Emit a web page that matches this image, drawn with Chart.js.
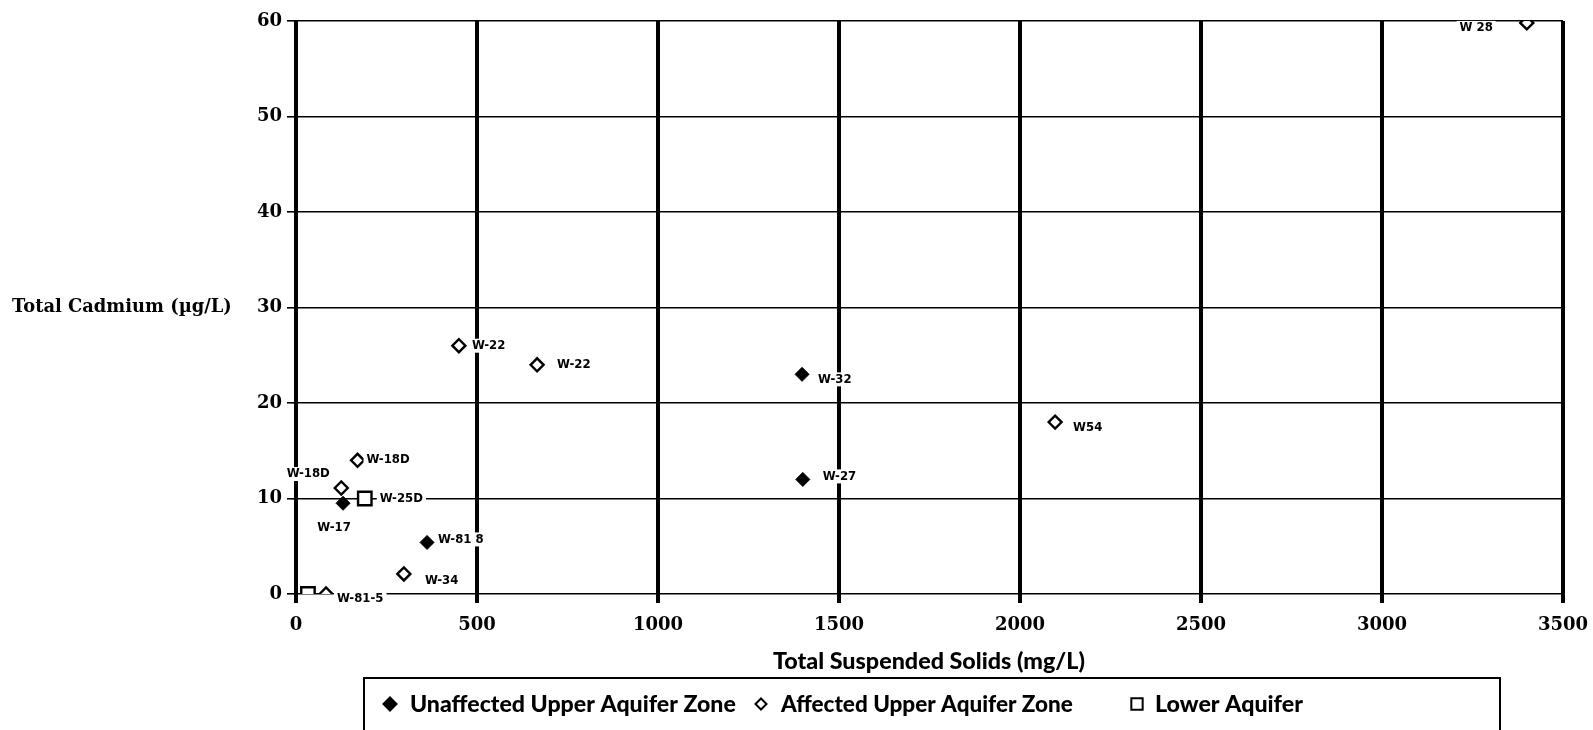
<!DOCTYPE html>
<html><head><meta charset="utf-8">
<script src="https://cdn.jsdelivr.net/npm/chart.js@4/dist/chart.umd.min.js"></script>
<style>html,body{margin:0;padding:0;background:#fff;overflow:hidden;} #wrap{width:1593px;height:730px;position:relative;} canvas{display:block;}</style>
</head><body><div id="wrap"><canvas id="c" width="1593" height="730" style="width:1593px;height:730px"></canvas></div>
<script>
// ---- data ----
const xTickValues = [0, 500, 1000, 1500, 2000, 2500, 3000, 3500];
const yTickValues = [0, 10, 20, 30, 40, 50, 60];
const xTitle = 'Total Suspended Solids (mg/L)';
const yTitle = 'Total Cadmium (\u00b5g/L)';
const seriesNames = ['Unaffected Upper Aquifer Zone', 'Affected Upper Aquifer Zone', 'Lower Aquifer'];

const unaffectedTSS = [130, 362, 1398, 1400];
const unaffectedCd = [9.5, 5.4, 23, 12];
const unaffectedWells = ['W-17', 'W-81 8', 'W-32', 'W-27'];

const affectedTSS = [3400, 450, 666, 2097, 170, 125, 298, 83];
const affectedCd = [59.8, 26, 24, 18, 14, 11.1, 2.1, 0];
const affectedWells = ['W 28', 'W-22', 'W-22', 'W54', 'W-18D', 'W-18D', 'W-34', 'W-81-5'];

const lowerTSS = [190, 33];
const lowerCd = [10, 0];
const lowerWells = ['W-25D', ''];

// ---- label placement (styling) ----
const labelOffsets = [
  [['center', -9, 24], ['left', 11, -3], ['left', 16, 5], ['left', 20, -3]],
  [['right', -34, 5], ['left', 13, 0], ['left', 20, 0], ['left', 18, 6], ['left', 9, -1], ['center', -33, -14], ['left', 21, 7], ['left', 11, 5]],
  [['left', 15, 0], ['left', 0, 0]]
];

function pts(xs, ys) { return xs.map((x, i) => ({x: x, y: ys[i]})); }
const wellNames = [unaffectedWells, affectedWells, lowerWells];

function fitFont(ctx, text, weight, family, target) {
  ctx.font = weight + ' 20px ' + family;
  const w = ctx.measureText(text).width;
  const size = 20 * target / w;
  ctx.font = weight + ' ' + size.toFixed(2) + 'px ' + family;
}

const textPlugin = {
  id: 'texts',
  afterDatasetsDraw(chart) {
    const ctx = chart.ctx;
    ctx.save();
    ctx.textBaseline = 'middle';
    ctx.font = 'bold 13px "DejaVu Sans Condensed", "DejaVu Sans", sans-serif';
    chart.data.datasets.forEach((ds, di) => {
      const meta = chart.getDatasetMeta(di);
      meta.data.forEach((el, i) => {
        const name = wellNames[di][i];
        if (!name) return;
        const o = labelOffsets[di][i];
        const w = ctx.measureText(name).width;
        const tx = el.x + o[1], ty = el.y + o[2];
        const left = o[0] === 'left' ? tx : (o[0] === 'right' ? tx - w : tx - w / 2);
        ctx.fillStyle = '#fff';
        ctx.fillRect(left - 3, ty - 7, w + 6, 14);
        ctx.fillStyle = '#000';
        ctx.textAlign = o[0];
        ctx.fillText(name, tx, ty);
      });
    });
    ctx.restore();
  },
  afterDraw(chart) {
    const ctx = chart.ctx;
    const ys = chart.scales.y;
    ctx.save();
    ctx.fillStyle = '#000';
    ctx.textBaseline = 'middle';
    // y title (horizontal)
    fitFont(ctx, yTitle, '900', '"DejaVu Serif", serif', 220);
    ctx.textAlign = 'left';
    ctx.fillText(yTitle, 12, ys.getPixelForValue(30));
    // x title
    fitFont(ctx, xTitle, '900', 'Lato, sans-serif', 312);
    ctx.textAlign = 'center';
    ctx.fillText(xTitle, 929, 661);
    // legend box
    ctx.strokeStyle = '#000';
    ctx.lineWidth = 2;
    ctx.strokeRect(364, 678, 1136, 70);
    const items = [
      {style: 'rectRot', r: 6.5, fill: '#000', mx: 390, tx: 410, w: 326},
      {style: 'rectRot', r: 5.5, fill: '#fff', mx: 761, tx: 781, w: 292},
      {style: 'rect', r: 8, fill: '#fff', mx: 1137, tx: 1155, w: 148}
    ];
    const ly = 704;
    items.forEach((it, k) => {
      ctx.fillStyle = it.fill;
      ctx.strokeStyle = '#000';
      ctx.lineWidth = 2;
      Chart.helpers.drawPoint(ctx, {pointStyle: it.style, radius: it.r, rotation: 0, borderWidth: 2}, it.mx, ly);
      ctx.fillStyle = '#000';
      fitFont(ctx, seriesNames[k], '900', 'Lato, sans-serif', it.w);
      ctx.textAlign = 'left';
      ctx.fillText(seriesNames[k], it.tx, ly + 1);
    });
    ctx.restore();
  }
};

const whiteBg = {
  id: 'bg',
  beforeDraw(chart) {
    const ctx = chart.ctx;
    ctx.save();
    ctx.fillStyle = '#fff';
    ctx.fillRect(0, 0, chart.width, chart.height);
    ctx.restore();
  }
};

new Chart(document.getElementById('c'), {
  type: 'scatter',
  data: {
    datasets: [
      {label: seriesNames[0], data: pts(unaffectedTSS, unaffectedCd), pointStyle: 'rectRot', pointRadius: 7,
       backgroundColor: '#000', borderColor: '#000', borderWidth: 1},
      {label: seriesNames[1], data: pts(affectedTSS, affectedCd), pointStyle: 'rectRot', pointRadius: 6.5,
       backgroundColor: '#fff', borderColor: '#000', borderWidth: 2.4},
      {label: seriesNames[2], data: pts(lowerTSS, lowerCd), pointStyle: 'rect', pointRadius: 9.5,
       backgroundColor: '#fff', borderColor: '#000', borderWidth: 2.4}
    ]
  },
  options: {
    responsive: false,
    animation: false,
    devicePixelRatio: 1,
    layout: {padding: {left: 0, right: 30, top: 21, bottom: 0}},
    plugins: {legend: {display: false}, tooltip: {enabled: false}},
    scales: {
      x: {
        type: 'linear', min: 0, max: 3500,
        afterBuildTicks(s) { s.ticks = xTickValues.map(v => ({value: v})); },
        afterFit(s) { s.height = 136; s.paddingLeft = 0; s.paddingRight = 0; },
        grid: {color: '#000', lineWidth: 4, tickLength: 9, drawTicks: true},
        border: {display: false},
        ticks: {color: '#000', padding: 12, maxRotation: 0, callback: v => String(v),
                font: {family: '"DejaVu Serif", serif', weight: 'bold', size: 18}},
        title: {display: false}
      },
      y: {
        type: 'linear', min: 0, max: 60,
        afterBuildTicks(s) { s.ticks = yTickValues.map(v => ({value: v})); },
        afterFit(s) { s.width = 296; s.paddingTop = 0; s.paddingBottom = 0; },
        grid: {color: '#000', lineWidth: 1.6, tickLength: 9},
        border: {display: false},
        ticks: {color: '#000', padding: 5, callback: v => String(v),
                font: {family: '"DejaVu Serif", serif', weight: 'bold', size: 18}},
        title: {display: false}
      }
    }
  },
  plugins: [whiteBg, textPlugin]
});
</script>
</body></html>
